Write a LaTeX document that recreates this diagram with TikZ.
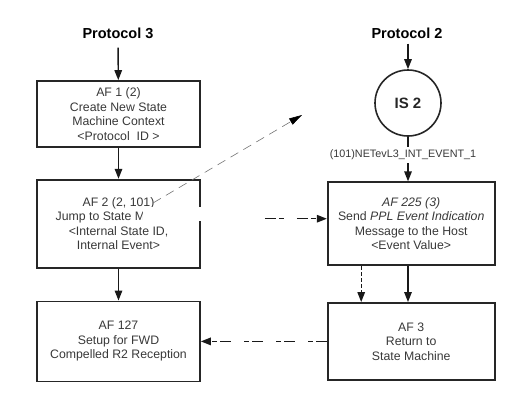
\documentclass[tikz,border=0pt]{standalone}
\usepackage{fontspec}
\setmainfont{Liberation Sans}
\usetikzlibrary{arrows.meta,positioning}

\begin{document}
\begin{tikzpicture}[
    x=1pt, y=-1pt,
    >={Triangle[length=10pt,width=7.5pt]},
    node distance=31pt and 126pt,
    stepbox/.style={
        rectangle,
        draw=black!85,
        line width=1.7pt,
        minimum width=#1,
        inner sep=3pt,
        align=center,
        text=black!78,
        font=\fontsize{12.3}{14.5}\selectfont
    },
    title/.style={
        inner sep=2pt,
        font=\fontsize{14.5}{16}\selectfont\bfseries
    },
    state/.style={
        circle,
        draw=black!85,
        line width=1.6pt,
        minimum size=66pt,
        inner sep=0pt,
        text=black!85,
        font=\fontsize{15}{17}\selectfont\bfseries
    },
    evlabel/.style={
        inner sep=3pt,
        text=black!78,
        font=\fontsize{10.8}{12}\selectfont
    },
    arr/.style={
        ->,
        line width=1.4pt,
        draw=black!90
    },
    dotarr/.style={
        arr,
        dash pattern=on 11pt off 3pt on 5pt off 13pt
    },
    shortarr/.style={
        arr,
        dash pattern=on 4pt off 2pt
    },
    jumparr/.style={
        -{Triangle[length=13pt,width=7pt,black]},
        line width=0.6pt,
        draw=black!55,
        dash pattern=on 9pt off 6pt
    }
]
\useasboundingbox (0,0) rectangle (527,407);

% Protocol 3 column
\node[title] (p3) at (118,33) {Protocol 3};

\node[stepbox=163pt, minimum height=66pt] (af1) at (118.5,114) {
    AF 1 (2)\\
    Create New State\\
    Machine Context\\
    <Protocol\ \ ID >
};

\node[stepbox=163pt, minimum height=88pt, below=31pt of af1] (af2) {
    AF 2 (2, 101)\\
    Jump to State M\phantom{achine}\\
    <Internal State ID,\\
    Internal Event>
};

\node[stepbox=163pt, minimum height=80pt, below=32pt of af2] (af127) {
    AF 127\\
    Setup for FWD\\
    Compelled R2 Reception
};

% Protocol 2 column
\node[title] (p2) at (407,33) {Protocol 2};

\node[state] (is2) at (408,103) {IS 2};

\node[evlabel] (evt) at (403,155) {(101)NETevL3\_INT\_EVENT\_1};

\node[stepbox=167pt, minimum height=83pt, right=126pt of af2] (af225) {
    \itshape AF 225 (3)\\
    Send \textit{PPL Event Indication}\\
    Message to the Host\\
    <Event Value>
};

\node[stepbox=167pt, minimum height=77pt, below=36pt of af225] (af3) {
    AF 3\\
    Return to\\
    State Machine
};

% Main flow
\draw[arr, shorten <=7pt] (p3) -- (af1);
\draw[arr] (af1) -- (af2);
\draw[arr] (af2) -- (af127);

\draw[arr, shorten <=3pt] (p2.south -| is2.north) -- (is2);
\draw[line width=1.4pt, draw=black!90] (is2.south) -- (is2.south |- evt.north);
\draw[arr] (is2.south |- evt.south) -- (is2.south |- af225.north);
\draw[arr] (is2.south |- af225.south) -- (is2.south |- af3.north);
\draw[shortarr] ([xshift=-50pt]af225.south) -- ([xshift=-50pt]af3.north);

% Cross links
\draw[dotarr] ([yshift=5pt]af2.east) -- ([yshift=5pt]af225.west);
\draw[dotarr] (af3.west) -- (af127.east);

% Patch over the jump text
\fill[white] (143,207) rectangle (263,221);

\coordinate (jumpstart) at (153,203);
\coordinate (jumpend) at (302,115);
\draw[jumparr] (jumpstart) -- (jumpend);

\end{tikzpicture}
\end{document}
